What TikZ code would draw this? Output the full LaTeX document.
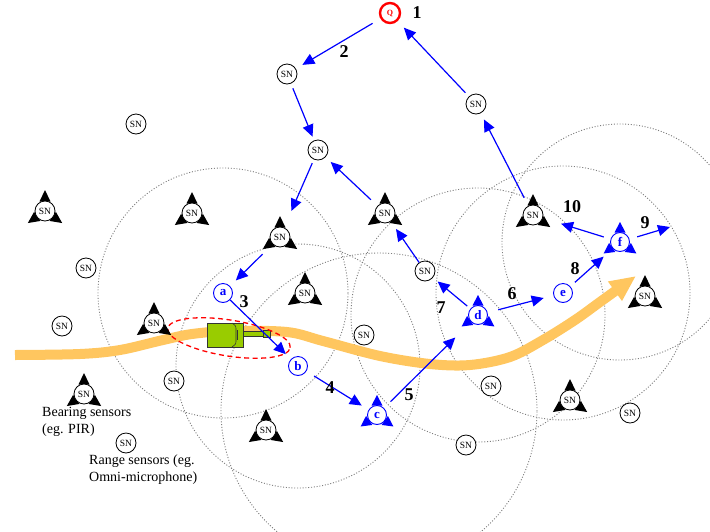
\documentclass[tikz,border=0pt]{standalone}
\usepackage{fontspec}
\setmainfont{Liberation Serif}
\usetikzlibrary{arrows.meta,calc}
\definecolor{trackpath}{RGB}{255,198,95}
\definecolor{tankgreen}{RGB}{153,204,0}
\definecolor{rangegray}{RGB}{125,125,125}
\begin{document}
\begin{tikzpicture}[x=1pt,y=-1pt,
  sn/.style={circle,draw=black,fill=white,line width=0.8pt,minimum size=20pt,inner sep=0pt,font=\fontsize{9.5}{10}\selectfont},
  trk/.style={circle,draw=blue,fill=white,line width=0.9pt,minimum size=19pt,inner sep=0pt,text=blue,font=\bfseries\fontsize{13}{13}\selectfont},
  query/.style={circle,draw=red,fill=white,line width=2.4pt,minimum size=20pt,inner sep=0pt,text=red,font=\bfseries\fontsize{8}{8}\selectfont},
  hop/.style={draw=blue,line width=1.2pt,-{Triangle[length=12pt,width=11pt]}},
  num/.style={font=\bfseries\fontsize{18}{18}\selectfont,inner sep=0pt},
  legend/.style={font=\fontsize{14}{17}\selectfont,align=left,inner sep=0pt,anchor=north west},
  sensing/.style={draw=rangegray,line width=0.9pt,dash pattern=on 1pt off 1.8pt},
]
\useasboundingbox (0,0) rectangle (710,531);

% sensor positions
\coordinate (pQ) at (390,13);
\coordinate (p1) at (287,74);
\coordinate (p2) at (318,150);
\coordinate (p3) at (476,104);
\coordinate (p4) at (136,124);
\coordinate (p5) at (86,268);
\coordinate (p6) at (62,326);
\coordinate (p7) at (174,381);
\coordinate (p8) at (364,335);
\coordinate (p9) at (425,271);
\coordinate (p10) at (491,386);
\coordinate (p11) at (466,445);
\coordinate (p12) at (630,413);
\coordinate (p13) at (126,443);
\coordinate (q1) at (45,211);
\coordinate (q2) at (192,213);
\coordinate (q3) at (280,237);
\coordinate (q4) at (385,213);
\coordinate (q5) at (305,293);
\coordinate (q6) at (154,323);
\coordinate (q7) at (84,394);
\coordinate (q8) at (266,430);
\coordinate (q9) at (533,215);
\coordinate (q10) at (570,400);
\coordinate (q11) at (645,296);
\coordinate (pa) at (223,293);
\coordinate (pb) at (298,366);
\coordinate (pc) at (377,415);
\coordinate (pd) at (478,315);
\coordinate (pe) at (563,293);
\coordinate (pf) at (620,242);

% sensing ranges
\draw[sensing] (pa) circle[radius=125pt];
\draw[sensing] (pb) circle[radius=122pt];
\draw[sensing] (379,411) circle[radius=158pt];
\draw[sensing] (pd) circle[radius=127pt];
\draw[sensing] (pe) circle[radius=127pt];
\draw[sensing] (pf) circle[radius=118pt];

% target trajectory
\draw[trackpath,line width=10pt,-{Triangle[length=26pt,width=22pt]}]
  plot[smooth,tension=0.55] coordinates {(15,355) (80,354) (120,350) (163,340) (192,334) (230,331) (287,332) (323,341) (380,356) (430,364) (470,365) (510,357) (543,340) (575,320) (600,302) (636,276)};

% tank
\draw[fill=tankgreen,draw=black!80,line width=0.6pt] (237,331) rectangle (265,336);
\draw[fill=tankgreen,draw=black!80,line width=0.6pt] (263,330) rectangle (270,337);
\draw[fill=tankgreen,draw=black!80,line width=0.6pt] (207,323) rectangle (243,347);
\draw[draw=black!80,line width=0.6pt] (232,323) .. controls (236,326) .. (236,330) -- (236,340) .. controls (236,344) .. (232,347);
\draw[draw=black!80,line width=0.6pt] (237,330) -- (237,340);

% uncertainty region
\draw[red,line width=1.3pt,dash pattern=on 5pt off 3.5pt,rotate around={-9:(229,338)}] (229,338) ellipse[x radius=62pt,y radius=18pt];

% bearing sensor direction marks
\foreach \p/\c/\r in {q1/black/21,q2/black/21,q3/black/21,q4/black/21,q5/black/21,q6/black/21,q7/black/21,q8/black/21,q9/black/21,q10/black/21,q11/black/21,pc/blue/20,pd/blue/20,pf/blue/20}{
  \foreach \ang in {90,215,325}{
    \fill[\c] ($(\p)+(\ang:9.5pt)+(\ang+90:5.5pt)$) -- ($(\p)+(\ang:\r pt)$) -- ($(\p)+(\ang:9.5pt)+(\ang-90:5.5pt)$) -- cycle;
  }
}

% nodes
\node[query] (Q) at (pQ) {Q};
\foreach \i in {1,...,13}{\node[sn] (s\i) at (p\i) {SN};}
\foreach \i in {1,...,11}{\node[sn] (b\i) at (q\i) {SN};}
\node[trk] (a) at (pa) {a};
\node[trk] (b) at (pb) {b};
\node[trk] (c) at (pc) {c};
\node[trk] (d) at (pd) {d};
\node[trk] (e) at (pe) {e};
\node[trk] (f) at (pf) {f};
\coordinate (out9) at (670,227);

% message hops
\draw[hop,shorten <=9pt,shorten >=7.5pt] (Q) -- (s1);
\draw[hop,shorten <=5pt,shorten >=4pt] (s1) -- (s2);
\draw[hop,shorten <=4pt,shorten >=18pt] (s2) -- (b3);
\draw[hop,shorten <=14pt,shorten >=8pt] (b3) -- (a);
\draw[hop,shorten <=0pt,shorten >=7pt] (a) -- (b);
\draw[hop,shorten <=9pt,shorten >=8pt] (b) -- (c);
\draw[hop,shorten <=9pt,shorten >=22pt] (c) -- (d);
\draw[hop,shorten <=4pt,shorten >=6pt] (d) -- (s9);
\draw[hop,shorten <=0pt,shorten >=9pt] (s9) -- (b4);
\draw[hop,shorten <=9pt,shorten >=7pt] (b4) -- (s2);
\draw[hop,shorten <=11pt,shorten >=10pt] (d) -- (e);
\draw[hop,shorten <=6pt,shorten >=12pt] (e) -- (f);
\draw[hop,shorten <=7pt,shorten >=19pt] (f) -- (b9);
\draw[hop,shorten <=8pt] (f) -- (out9);
\draw[hop,shorten <=9pt,shorten >=7pt] (b9) -- (s3);
\draw[hop,shorten <=5pt,shorten >=9pt] (s3) -- (Q);

% hop numbers
\node[num] (l1) at (417,13) {1};
\node[num] (l2) at (344,52) {2};
\node[num] (l3) at (244,302) {3};
\node[num] (l4) at (330,388) {4};
\node[num] (l5) at (409,395) {5};
\node[num] (l6) at (512,294) {6};
\node[num] (l7) at (441,308) {7};
\node[num] (l8) at (575,269) {8};
\node[num] (l9) at (645,223) {9};
\node[num] (l10) at (572,207) {10};

% legend
\node[legend] (lb) at (42,407) {Bearing sensors\\(eg. PIR)};
\node[legend] (lr) at (89,455) {Range sensors (eg.\\Omni-microphone)};
\end{tikzpicture}
\end{document}
